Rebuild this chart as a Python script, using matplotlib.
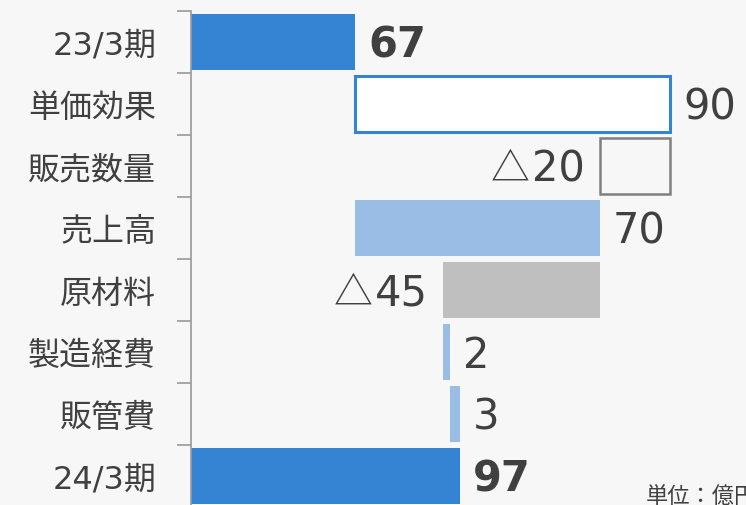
import matplotlib.pyplot as plt
from matplotlib.font_manager import FontProperties

plt.rcParams['font.family'] = ['DejaVu Sans', 'Noto Sans CJK JP']

# data
categories = ["23/3期", "単価効果", "販売数量", "売上高", "原材料", "製造経費", "販管費", "24/3期"]
starts = [0, 67, 137, 67, 92, 92, 94, 0]
widths = [67, 90, 20, 70, 45, 2, 3, 97]
labels = ["67", "90", "20", "70", "45", "2", "3", "97"]
negative = [False, False, True, False, True, False, False, False]

blue = "#3583d3"
light_blue = "#99bde4"
grey = "#bfbfbf"
bg = "#f7f7f7"
text_c = "#404040"

faces = [blue, "white", bg, light_blue, grey, light_blue, light_blue, blue]
edges = [blue, blue, "#808080", light_blue, grey, light_blue, light_blue, blue]
lws = [0, 2.2, 1.8, 0, 0, 0, 0, 0]
bold = [True, False, False, False, False, False, False, True]

fig = plt.figure(figsize=(7.46, 5.06), dpi=100, facecolor=bg)
ax = fig.add_axes([191 / 746, -2 / 506, 1 - 191 / 746, 496 / 506])
ax.set_facecolor(bg)
renderer = fig.canvas.get_renderer()
vsize = 30
num_font = FontProperties(family="DejaVu Sans", size=vsize)

y = list(range(len(categories)))
for i in y:
    ax.barh(i, widths[i], left=starts[i], height=0.9, color=faces[i],
            edgecolor=edges[i], linewidth=lws[i])
    if negative[i]:
        ax.annotate(labels[i], (starts[i], i), xytext=(-15, -3), textcoords="offset pixels",
                    ha="right", va="center", fontsize=vsize, color=text_c)
        w = renderer.get_text_width_height_descent(labels[i], num_font, ismath=False)[0]
        # full-width triangle from the CJK font
        ax.annotate("△", (starts[i], i), xytext=(-17 - w, -3), textcoords="offset pixels",
                    ha="right", va="center", fontsize=28, color=text_c,
                    family="Noto Sans CJK JP")
    else:
        ax.annotate(labels[i], (starts[i] + widths[i], i), xytext=(13, -3),
                    textcoords="offset pixels", ha="left", va="center", fontsize=vsize,
                    color=text_c, fontweight="bold" if bold[i] else "normal")

ax.set_xlim(20.1, 178.7)
ax.set_ylim(7.5, -0.5)
ax.set_yticks(y)
ax.set_yticklabels(categories, fontsize=23, color=text_c)
ax.set_yticks([i - 0.5 for i in range(len(categories) + 1)], minor=True)
ax.tick_params(axis="y", which="major", length=0, pad=25)
ax.tick_params(axis="y", which="minor", length=10, color="#999999", width=1.2)
ax.set_xticks([])
for s in ["top", "right", "bottom"]:
    ax.spines[s].set_visible(False)
ax.spines["left"].set_color("#999999")
ax.spines["left"].set_linewidth(1.2)

fig.text(646 / 746, 9 / 506, "単位：億円", fontsize=16, color=text_c, ha="left", va="center")

fig.savefig("out.png", dpi=100, facecolor=bg)
